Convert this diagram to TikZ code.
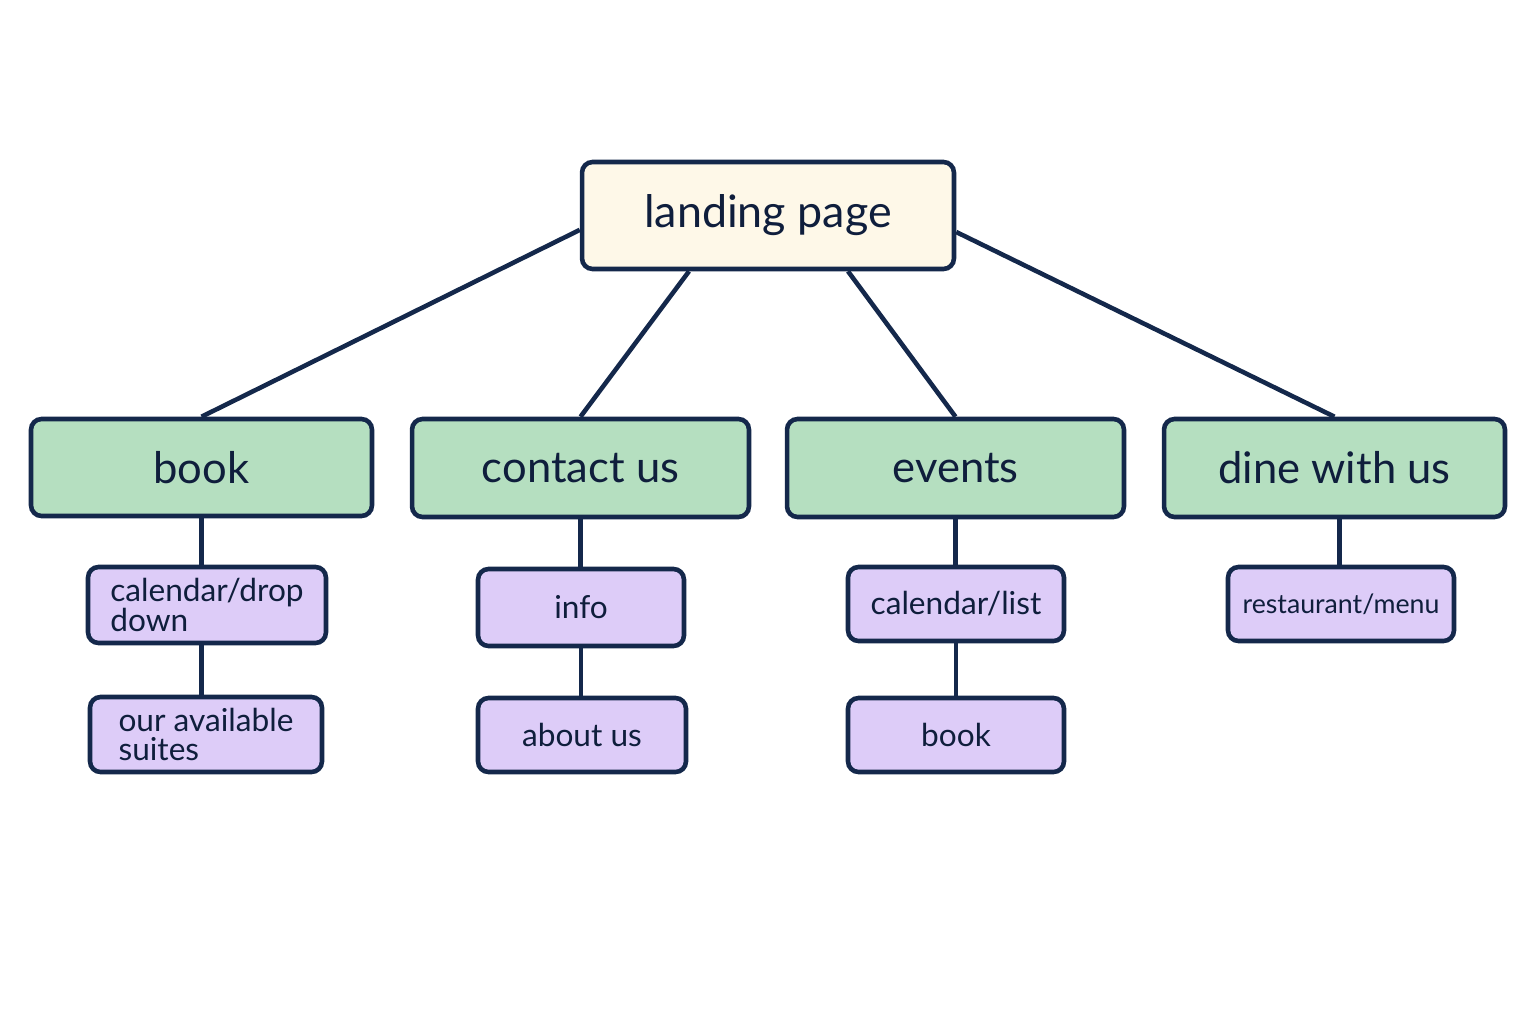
\documentclass[tikz,border=0pt]{standalone}
\usepackage{fontspec}
\setmainfont{Lato}
\definecolor{navy}{HTML}{14284B}
\definecolor{txt}{HTML}{0F1E3C}
\definecolor{cream}{HTML}{FEF8E8}
\definecolor{mint}{HTML}{B5DFC0}
\definecolor{lilac}{HTML}{DDCCF8}
\tikzset{
  box/.style={draw=navy, line width=2.6pt, rounded corners=6pt, text=txt, inner sep=0pt},
  rootbox/.style={box, fill=cream, font=\fontsize{25.5}{28}\selectfont},
  mainbox/.style={box, fill=mint, font=\fontsize{24.8}{28}\selectfont},
  subbox/.style={box, fill=lilac, font=\fontsize{18}{16.8}\selectfont, align=left},
  link/.style={draw=navy, line width=2.6pt}
}
\begin{document}
\begin{tikzpicture}[x=0.02cm, y=-0.02cm]
\useasboundingbox (0,0) rectangle (1536,1024);
\node[rootbox, minimum width=7.44cm, minimum height=2.14cm] (landing) at (768,215.5) {landing page};

\node[mainbox, minimum width=6.82cm, minimum height=1.94cm] (book) at (201.5,467.5) {book};
\node[mainbox, minimum width=6.74cm, minimum height=1.96cm] (contact) at (580.5,468) {contact us};
\node[mainbox, minimum width=6.74cm, minimum height=1.96cm] (events) at (955.5,468) {events};
\node[mainbox, minimum width=6.82cm, minimum height=1.96cm] (dine) at (1334.5,468) {dine with us};

\node[subbox, minimum width=4.76cm, minimum height=1.52cm] (caldrop) at (207,605) {calendar/drop\\down};
\node[subbox, minimum width=4.64cm, minimum height=1.50cm] (suites) at (206,734.5) {our available\\suites};
\node[subbox, minimum width=4.12cm, minimum height=1.54cm] (info) at (581,607.5) {info};
\node[subbox, minimum width=4.16cm, minimum height=1.48cm] (about) at (582,735) {about us};
\node[subbox, minimum width=4.32cm, minimum height=1.48cm] (callist) at (956,604) {calendar/list};
\node[subbox, minimum width=4.32cm, minimum height=1.48cm] (evbook) at (956,735) {book};
\node[subbox, minimum width=4.52cm, minimum height=1.48cm, font=\fontsize{15.2}{17}\selectfont] (menu) at (1341,604) {restaurant/menu};

\draw[link] ([yshift=-8.2pt]landing.west) -- (book.north);
\draw[link] ([xshift=-1.58cm]landing.south) -- (contact.north);
\draw[link] ([xshift=1.6cm]landing.south) -- (events.north);
\draw[link] ([yshift=-9.4pt]landing.east) -- (dine.north);

\draw[link] (book.south) -- (book.south |- caldrop.north);
\draw[link] (caldrop.south -| book.south) -- (book.south |- suites.north);
\draw[link] (contact.south) -- (contact.south |- info.north);
\draw[link] (info.south) -- (info.south |- about.north);
\draw[link] (events.south) -- (events.south |- callist.north);
\draw[link] (callist.south) -- (callist.south |- evbook.north);
\draw[link] ([xshift=0.1cm]dine.south) -- ([xshift=0.1cm]dine.south |- menu.north);
\end{tikzpicture}
\end{document}
